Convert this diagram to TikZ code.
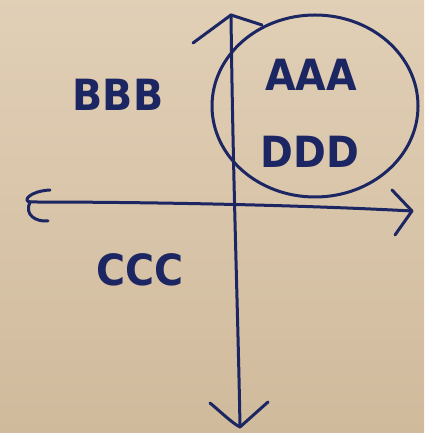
\documentclass[tikz,border=0pt]{standalone}
\usepackage{fontspec}
\newfontfamily\handfont{DejaVu Sans}
\begin{document}
\begin{tikzpicture}[x=1pt,y=1pt,
  ink/.style={draw=inkblue,line width=3pt,line cap=round,line join=round},
  label/.style={text=inkblue,font=\handfont\bfseries\fontsize{43}{43}\selectfont,xscale=0.92,transform shape,inner sep=0pt}]
\definecolor{inkblue}{RGB}{28,38,98}
\definecolor{paper}{RGB}{222,203,176}
\definecolor{paperdark}{RGB}{208,186,156}
% paper background
\fill[top color=paper!92!white,bottom color=paperdark] (0,0) rectangle (424,433);
\useasboundingbox (0,0) rectangle (424,433);

% axis end points
\coordinate (top) at (231,418);
\coordinate (bottom) at (240,6);
\coordinate (left) at (30,231);
\coordinate (right) at (412,222);
% arrow wings
\coordinate (topL) at (193,390);
\coordinate (topR) at (262,408);
\coordinate (botL) at (210,30);
\coordinate (botR) at (268,31);
\coordinate (rightU) at (392,243);
\coordinate (rightD) at (395,198);

% vertical axis with arrows at both ends
\draw[ink] (top) .. controls (233,250) and (238,120) .. (bottom);
\draw[ink] (topL) -- (top) -- (topR);
\draw[ink] (botL) .. controls (222,20) and (232,10) .. (bottom) -- (botR);

% horizontal axis
\draw[ink] (left) .. controls (150,231) and (300,228) .. (right);
\draw[ink] (rightU) -- (right) -- (rightD);
\draw[ink] (50,243) .. controls (30,242) and (22,232) .. (left)
           .. controls (24,218) and (36,211) .. (48,212);

% circle around the upper right quadrant
\draw[ink] (315,327) ellipse [x radius=103, y radius=91];

% quadrant labels
\node[label] (aaa) at (311,358) {AAA};
\node[label] (ddd) at (310,281) {DDD};
\node[label] (bbb) at (118,338) {BBB};
\node[label] (ccc) at (140,163) {CCC};
\end{tikzpicture}
\end{document}
